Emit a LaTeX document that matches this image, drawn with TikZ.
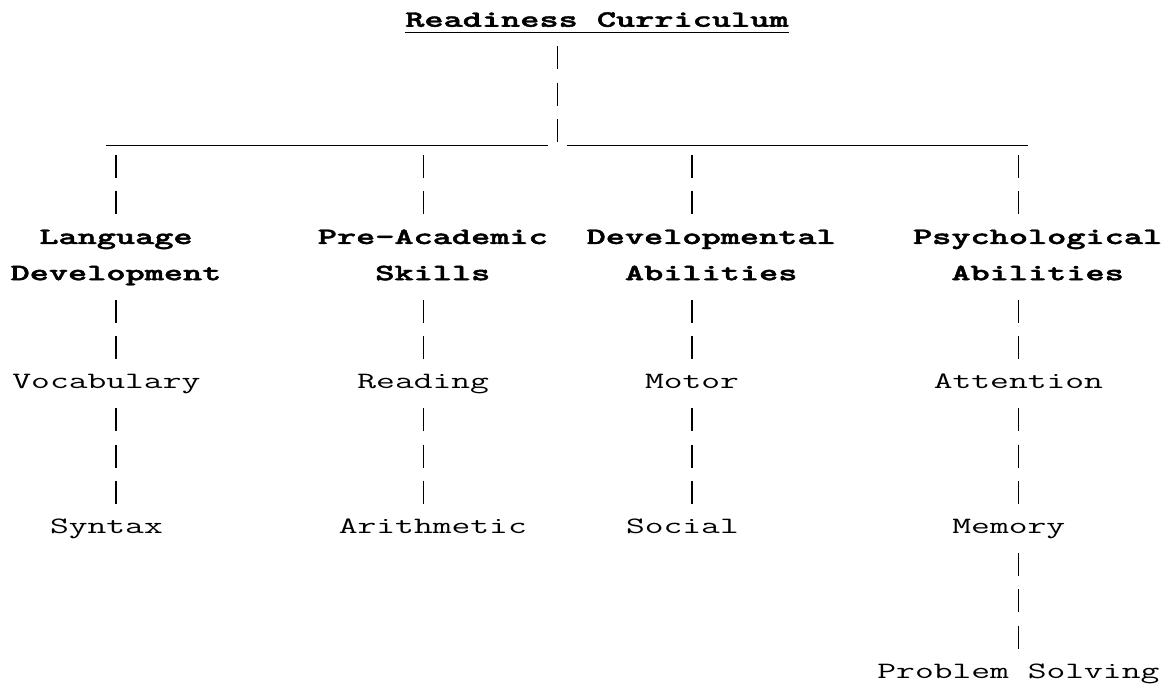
\documentclass[tikz,border=0pt]{standalone}
\usepackage{fontspec}
\newfontfamily\headfont[FakeBold=1.6]{lmmonolt10-bold.otf}
\usetikzlibrary{calc}

\tikzset{
  item/.style={anchor=base, inner sep=0pt, xscale=1.56,
    font=\fontsize{23.4}{36.2}\selectfont\ttfamily},
  head/.style={item, align=center,
    font=\fontsize{23.4}{36.2}\selectfont\headfont},
  bar/.style={line width=1.2pt, dash pattern=on 23pt off 13.2pt, shorten >=29.8pt},
  rule/.style={line width=1.2pt}
}

\begin{document}
\begin{tikzpicture}[x=19.2pt, y=-36.2pt]
  \useasboundingbox (-0.5417,-0.7403) rectangle (60.396,18.348);

  % Set the title
  \node[head] (root) at (30.55,0) {Readiness Curriculum};
  \draw[rule] ([yshift=-5.5pt]root.base west) -- ([yshift=-5.5pt]root.base east);

  % Set the crossbar points and the columns
  \coordinate (hub) at (28.5,3.285);
  \coordinate (west) at (5,3.285);
  \coordinate (east) at (53,3.285);
  \foreach \n/\x in {cA/5.5, cB/21.5, cC/35.5, cD/52.5}
  \coordinate (\n) at (\x,3.285);

  % Set the four areas (base is the second line)
  \node[head] (lang) at (5.5,7) {Language\\Development};
  \node[head] (pre) at (22,7) {Pre-Academic\\Skills};
  \node[head] (devel) at (36.5,7) {Developmental\\Abilities};
  \node[head] (psych) at (53.5,7) {Psychological\\Abilities};

  % Set the skills below them
  \foreach \n/\x/\r/\t in {voc/5/10/Vocabulary, syn/5/14/Syntax,
    read/21.5/10/Reading, arith/22/14/Arithmetic,
    motor/35.5/10/Motor, social/35/14/Social,
    att/52.5/10/Attention, mem/52/14/Memory, prob/52.5/18/Problem Solving}
  \node[item] (\n) at (\x,\r) {\t};

  % Connect the title with the crossbar
  \draw[bar, shorten <=19.6pt, shorten >=3.9pt] (root.base -| hub) -- (hub);
  \draw[rule, shorten >=9.6pt] (west) -- (hub);
  \draw[rule, shorten <=9.6pt] (hub) -- (east);

  % Connect the crossbar with the areas
  \foreach \c/\n in {cA/lang, cB/pre, cC/devel, cD/psych}
  \draw[bar, shorten <=9.3pt, shorten >=66pt] (\c) -- (\n.base -| \c);

  % Connect the areas and the skills
  \foreach \a/\b/\c in {lang/voc/cA, pre/read/cB, devel/motor/cC, psych/att/cD,
    voc/syn/cA, read/arith/cB, motor/social/cC, att/mem/cD, mem/prob/cD}
  \draw[bar, shorten <=19.6pt] (\a.base -| \c) -- (\b.base -| \c);
\end{tikzpicture}
\end{document}
